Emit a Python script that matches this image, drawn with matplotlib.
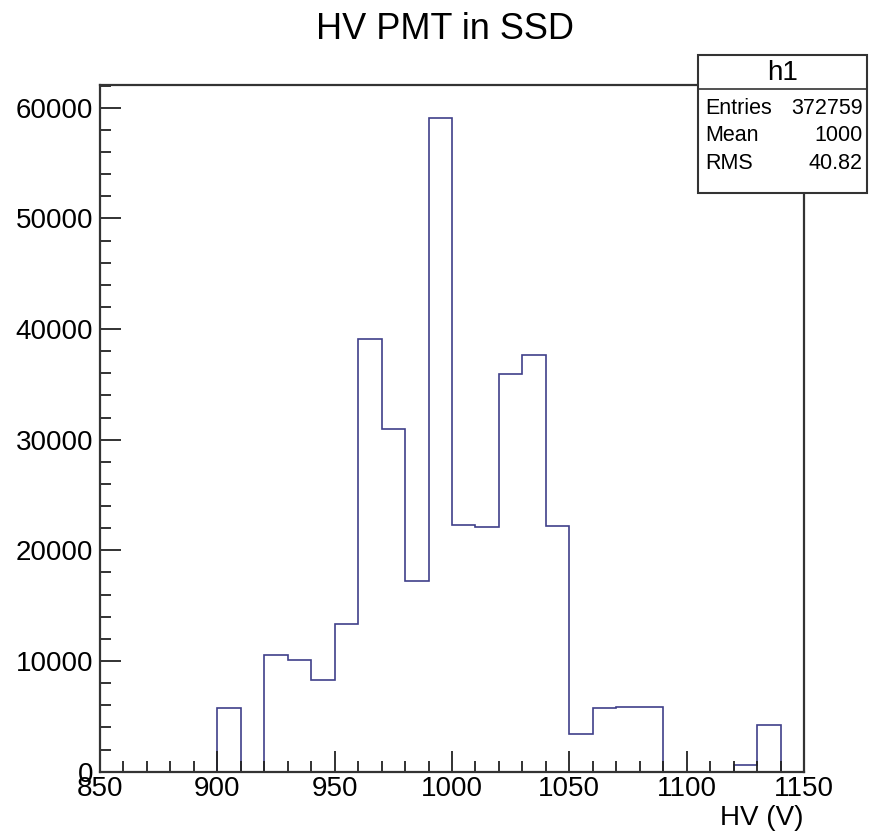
import numpy as np
import matplotlib.pyplot as plt
from matplotlib.ticker import MultipleLocator
from matplotlib.patches import Rectangle
from matplotlib.lines import Line2D

plt.rcParams['font.family'] = ['Liberation Sans', 'DejaVu Sans']

# bin edges of the histogram (10 V bins from 850 to 1150)
bin_edges = np.arange(850, 1151, 10)

# counts per bin
counts = [0, 0, 0, 0, 0,
          5770, 0, 10500, 10120, 8240,
          13330, 39100, 30960, 17200, 59060,
          22310, 22130, 35960, 37670, 22190,
          3450, 5770, 5890, 5800, 0,
          0, 0, 605, 4220, 0]

stats_labels = ['Entries', 'Mean', 'RMS']
stats_values = ['372759', '1000', '40.82']

fig = plt.figure(figsize=(8.69, 8.32), dpi=100)
ax = fig.add_axes([0.1151, 0.0725, 0.8101, 0.8253])

ax.stairs(counts, bin_edges, color='#40408a', linewidth=1.2)

ax.set_xlim(850, 1150)
ax.set_ylim(0, 62050)

ax.xaxis.set_major_locator(MultipleLocator(50))
ax.xaxis.set_minor_locator(MultipleLocator(10))
ax.yaxis.set_major_locator(MultipleLocator(10000))
ax.yaxis.set_minor_locator(MultipleLocator(2000))

ax.tick_params(which='both', direction='in', top=False, right=False,
               labelsize=20, color='#222222')
ax.tick_params(which='major', length=15, width=1.3)
ax.tick_params(which='minor', length=8, width=1.3)
ax.tick_params(axis='x', pad=3)
ax.tick_params(axis='y', pad=5)

for s in ax.spines.values():
    s.set_linewidth(1.6)
    s.set_color('#333333')

ax.set_xlabel('HV (V)', fontsize=20, loc='right', labelpad=2)

fig.text(0.512, 0.965, 'HV PMT in SSD', fontsize=26, ha='center', va='center')

# stats box
bx0, bx1, by0, by1, ydiv = 0.803, 0.998, 0.768, 0.934, 0.893
fig.patches.append(Rectangle((bx0, by0), bx1 - bx0, by1 - by0, transform=fig.transFigure,
                             facecolor='white', edgecolor='#333333', linewidth=1.5, zorder=5))
fig.lines.append(Line2D([bx0, bx1], [ydiv, ydiv], transform=fig.transFigure,
                        color='#333333', linewidth=1.2, zorder=6))
fig.text((bx0 + bx1) / 2, 0.912, 'h1', fontsize=20, ha='center', va='center', zorder=7)
row_y = [0.869, 0.837, 0.803]
for lab, val, yy in zip(stats_labels, stats_values, row_y):
    fig.text(0.812, yy, lab, fontsize=15.5, ha='left', va='center', zorder=7)
    fig.text(0.993, yy, val, fontsize=15.5, ha='right', va='center', zorder=7)

fig.savefig('out.png', dpi=100)
